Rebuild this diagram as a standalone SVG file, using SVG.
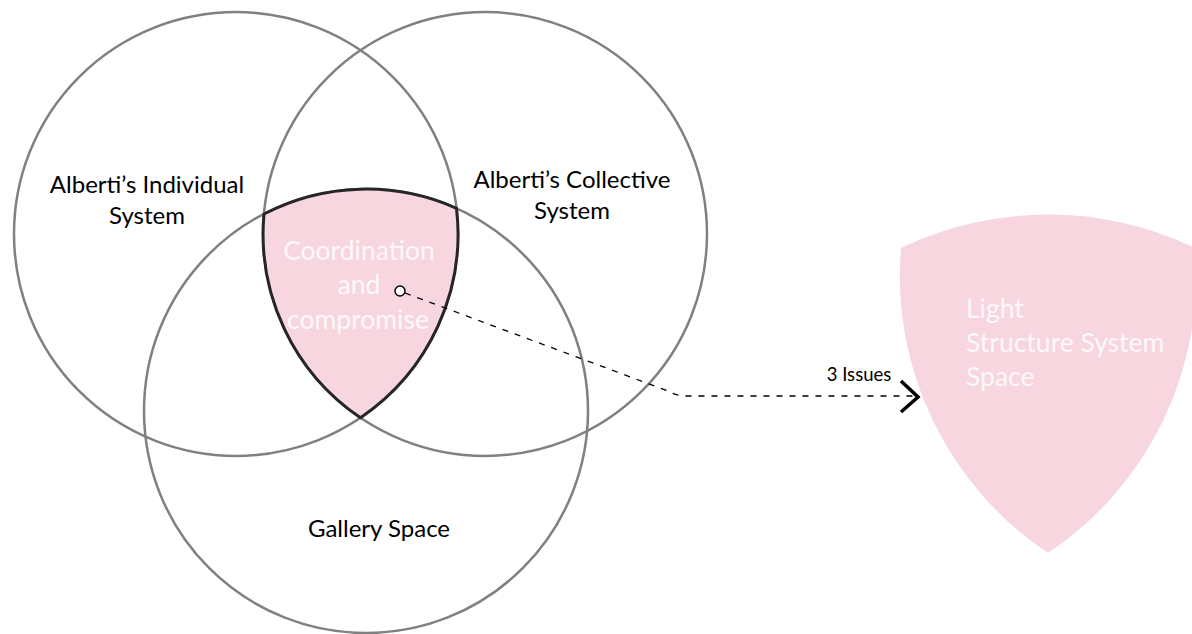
<svg xmlns="http://www.w3.org/2000/svg" width="1192" height="634" viewBox="0 0 1192 634">
<style>
.set{fill:none;stroke:#808080;stroke-width:2.5}
.lbl{font-family:Lato,"Liberation Sans",sans-serif;font-size:24px;fill:#000;text-anchor:middle}
.wt{font-family:Lato,"Liberation Sans",sans-serif;font-size:26.5px;fill:#fff;fill-opacity:0.85}
.pink{fill:#f7d6df}
</style>
<rect width="1192" height="634" fill="#fff"/>
<g id="individual">
<circle class="set" cx="236" cy="234" r="222"/>
<text class="lbl" x="147" y="193">Alberti’s Individual</text>
<text class="lbl" x="147" y="224">System</text>
</g>
<g id="collective">
<circle class="set" cx="485" cy="234" r="222"/>
<text class="lbl" x="572" y="188">Alberti’s Collective</text>
<text class="lbl" x="572" y="219">System</text>
</g>
<g id="gallery">
<circle class="set" cx="366" cy="411" r="222"/>
<text class="lbl" x="379" y="537">Gallery Space</text>
</g>
<g id="coordination">
<path class="pink" d="M264,214 A222,222 0 0 1 456.5,208.3 A222,222 0 0 1 360.5,417.8 A222,222 0 0 1 264,214 Z" stroke="#262626" stroke-width="3"/>
<text class="wt" text-anchor="middle" x="359" y="260">Coordination</text>
<text class="wt" text-anchor="middle" x="359" y="294">and</text>
<text class="wt" text-anchor="middle" x="358" y="329">compromise</text>
</g>
<g id="light">
<path class="pink" d="M901,248 A340,340 0 0 1 1195,248 A333,333 0 0 1 1048,553 A333,333 0 0 1 901,248 Z"/>
<text class="wt" x="966" y="318">Light</text>
<text class="wt" x="966" y="352">Structure System</text>
<text class="wt" x="966" y="386">Space</text>
</g>
<g id="connectors">
<path d="M405,293 L668,391 Q676,396 686,396 L915,396" fill="none" stroke="#000" stroke-width="1.3" stroke-dasharray="6,7"/>
<polyline points="901,381 918,397 901,412" fill="none" stroke="#000" stroke-width="3.5"/>
<circle cx="400" cy="291" r="5" fill="#fff" stroke="#000" stroke-width="1.5"/>
<text x="859" y="381" font-family="Lato,'Liberation Sans',sans-serif" font-size="18.5" text-anchor="middle" fill="#000">3 Issues</text>
</g>
</svg>
